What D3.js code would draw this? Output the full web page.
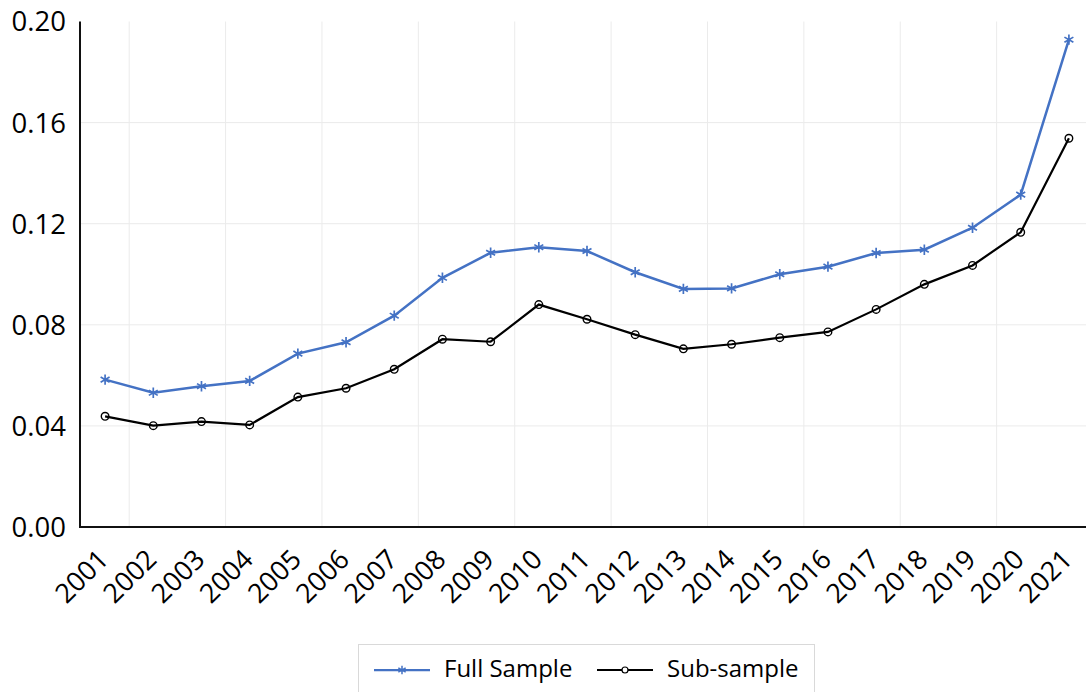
<!DOCTYPE html>
<html>
<head>
<meta charset="utf-8">
<script src="https://cdn.jsdelivr.net/npm/d3@7"></script>
<style>
  body { margin: 0; background: #fff; }
  svg { display: block; font-family: "Open Sans", sans-serif; }
</style>
</head>
<body>
<svg id="drawing_region"></svg>
<script>
// data
const years = ["2001", "2002", "2003", "2004", "2005", "2006", "2007", "2008", "2009", "2010", "2011",
    "2012", "2013", "2014", "2015", "2016", "2017", "2018", "2019", "2020", "2021"];
const fullSample = [0.0583, 0.0531, 0.0557, 0.0578, 0.0686, 0.0731, 0.0836, 0.0986, 0.1085, 0.1107, 0.1092,
    0.1008, 0.0942, 0.0944, 0.1000, 0.1030, 0.1084, 0.1097, 0.1184, 0.1315, 0.1928];
const subSample = [0.0438, 0.0401, 0.0417, 0.0404, 0.0514, 0.0549, 0.0624, 0.0743, 0.0733, 0.0880, 0.0822,
    0.0761, 0.0705, 0.0723, 0.0749, 0.0772, 0.0861, 0.0960, 0.1035, 0.1166, 0.1538];
const yTicks = [0, 0.04, 0.08, 0.12, 0.16, 0.20];
const seriesNames = ["Full Sample", "Sub-sample"];

const config = {
    width: 1086,
    height: 692,
    left: 81, right: 1093,
    top: 21.5, bottom: 527
};

const svg = d3.select('#drawing_region')
    .attr('width', config.width)
    .attr('height', config.height);

const xscale = d3.scalePoint()
    .domain(years)
    .range([config.left, config.right])
    .padding(0.5);
const step = xscale.step();

const yscale = d3.scaleLinear()
    .domain([0, 0.2])
    .range([config.bottom, config.top]);

// gridlines
const grid = svg.append('g');
grid.selectAll('line.h')
    .data(yTicks.slice(1, -1))
    .enter().append('line')
    .attr('x1', config.left).attr('x2', config.width)
    .attr('y1', d => yscale(d)).attr('y2', d => yscale(d))
    .attr('stroke', '#ebebeb').attr('stroke-width', 1);
// vertical lines every second category boundary
grid.selectAll('line.v')
    .data(years.filter((d, i) => i % 2 === 0 && i < years.length - 1))
    .enter().append('line')
    .attr('x1', d => xscale(d) + step / 2).attr('x2', d => xscale(d) + step / 2)
    .attr('y1', config.top).attr('y2', config.bottom)
    .attr('stroke', '#ebebeb').attr('stroke-width', 1);

// axes
svg.append('line')
    .attr('x1', 80).attr('x2', 80)
    .attr('y1', config.top).attr('y2', config.bottom + 1)
    .attr('stroke', '#111').attr('stroke-width', 2);
svg.append('line')
    .attr('x1', 79).attr('x2', config.width)
    .attr('y1', config.bottom).attr('y2', config.bottom)
    .attr('stroke', '#111').attr('stroke-width', 2);

svg.append('g').selectAll('text')
    .data(yTicks)
    .enter().append('text')
    .attr('x', 66)
    .attr('y', d => yscale(d))
    .attr('dy', '0.36em')
    .attr('text-anchor', 'end')
    .attr('font-size', 27.5)
    .attr('fill', '#000')
    .text(d => d3.format('.2f')(d));

svg.append('g').selectAll('text')
    .data(years)
    .enter().append('text')
    .attr('transform', d => `translate(${xscale(d) + 5}, ${config.bottom + 34}) rotate(-45)`)
    .attr('text-anchor', 'end')
    .attr('font-size', 27)
    .attr('fill', '#000')
    .text(d => d);

// lines
const line = d3.line()
    .x((d, i) => xscale(years[i]))
    .y(d => yscale(d));

svg.append('path')
    .datum(subSample)
    .attr('d', line)
    .attr('fill', 'none')
    .attr('stroke', '#000')
    .attr('stroke-width', 2.2);

svg.append('path')
    .datum(fullSample)
    .attr('d', line)
    .attr('fill', 'none')
    .attr('stroke', '#4472c4')
    .attr('stroke-width', 2.5);

const star = d3.symbol().type(d3.symbolAsterisk).size(75);

svg.append('g').selectAll('path')
    .data(fullSample)
    .enter().append('path')
    .attr('transform', (d, i) => `translate(${xscale(years[i])}, ${yscale(d)})`)
    .attr('d', star)
    .attr('fill', 'none')
    .attr('stroke', '#4472c4')
    .attr('stroke-width', 1.7);

svg.append('g').selectAll('circle')
    .data(subSample)
    .enter().append('circle')
    .attr('cx', (d, i) => xscale(years[i]))
    .attr('cy', d => yscale(d))
    .attr('r', 3.8)
    .attr('fill', 'none')
    .attr('stroke', '#000')
    .attr('stroke-width', 1.4);

// legend
const legend = svg.append('g');
legend.append('rect')
    .attr('x', 358.5).attr('y', 644.5)
    .attr('width', 456).attr('height', 60)
    .attr('fill', '#fff')
    .attr('stroke', '#d9d9d9');

const legendItems = [
    { name: seriesNames[0], x: 374, color: '#4472c4', width: 2.25, marker: 'star' },
    { name: seriesNames[1], x: 597, color: '#000', width: 2, marker: 'circle' }
];
legendItems.forEach(item => {
    legend.append('line')
        .attr('x1', item.x).attr('x2', item.x + 56)
        .attr('y1', 670).attr('y2', 670)
        .attr('stroke', item.color).attr('stroke-width', item.width);
    if (item.marker === 'star') {
        legend.append('path')
            .attr('transform', `translate(${item.x + 28}, 670)`)
            .attr('d', d3.symbol().type(d3.symbolAsterisk).size(50)())
            .attr('fill', 'none').attr('stroke', item.color).attr('stroke-width', 1.5);
    } else {
        legend.append('circle')
            .attr('cx', item.x + 28).attr('cy', 670).attr('r', 3)
            .attr('fill', '#fff').attr('stroke', item.color).attr('stroke-width', 1.2);
    }
    legend.append('text')
        .attr('x', item.x + 70)
        .attr('y', 677)
        .attr('font-size', 24)
        .attr('fill', '#000')
        .text(item.name);
});
</script>
</body>
</html>
